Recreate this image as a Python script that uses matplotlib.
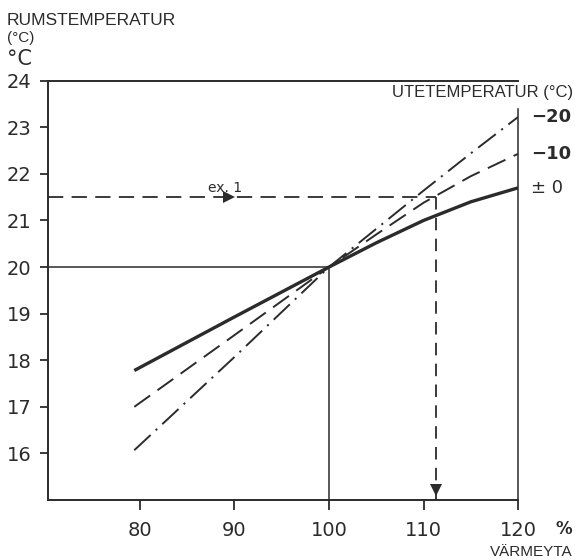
import matplotlib
matplotlib.use("Agg")
import matplotlib.pyplot as plt

# heat output (%) vs room temperature for three outdoor temperatures
varmeyta = [79.4, 90, 100, 105, 110, 115, 120]
t_0 = [17.78, 18.93, 20.0, 20.52, 21.0, 21.4, 21.7]
t_m10 = [17.0, 18.54, 20.0, 20.7, 21.38, 21.95, 22.43]
t_m20 = [16.07, 18.07, 20.0, 20.82, 21.64, 22.44, 23.22]
ute_labels = ["± 0", "−10", "−20"]

x_ticks = [80, 90, 100, 110, 120]
y_ticks = [16, 17, 18, 19, 20, 21, 22, 23, 24]

# example 1: 21.5 degC room temp, -10 outside -> about 111 %
ex_temp = 21.5
ex_heat = 111.3

ink = "#2b2b2b"
plt.rcParams["lines.scale_dashes"] = False
plt.rcParams["font.family"] = ["DejaVu Sans"]

fig = plt.figure(figsize=(5.75, 5.6), dpi=100)
ax = fig.add_axes([0.084, 0.1071, 0.8169, 0.7488])

ax.plot(varmeyta, t_0, color=ink, lw=2.4, solid_capstyle="butt")
ax.plot(varmeyta, t_m10, color=ink, lw=1.4, linestyle=(0, (14, 6.5)))
ax.plot(varmeyta, t_m20, color=ink, lw=1.4, linestyle=(0, (16, 5, 1.5, 5)))

# reference lines at 100 % / 20 degC
ax.plot([70.3, 100], [20, 20], color=ink, lw=1.1)
ax.plot([100, 100], [15, 20], color=ink, lw=1.1)

# example 1
ax.plot([70.3, ex_heat], [ex_temp, ex_temp], color=ink, lw=1.3, linestyle=(0, (11, 6)))
ax.plot([ex_heat, ex_heat], [ex_temp, 15], color=ink, lw=1.3, linestyle=(0, (9, 6)))
ax.plot(89.4, ex_temp, marker=">", ms=8, color=ink, mew=0)
ax.plot(ex_heat, 15.22, marker="v", ms=9, color=ink, mew=0)
ax.text(89.0, 21.7, "ex. 1", fontsize=10, color=ink, ha="center", va="center")

ax.set_xlim(70.3, 120)
ax.set_ylim(15, 24)
ax.set_xticks(x_ticks)
ax.set_yticks(y_ticks)
ax.tick_params(axis="x", direction="out", length=7, width=1.3, pad=8,
               labelsize=14, colors=ink)
ax.tick_params(axis="y", direction="out", length=6, width=1.3, pad=6,
               labelsize=14, colors=ink)
for s in ax.spines.values():
    s.set_color(ink)
    s.set_linewidth(1.4)
ax.spines["right"].set_linewidth(1.1)
ax.spines["right"].set_bounds(15, 23.4)

# outdoor temperature labels at line ends
ends = [t_0[-1], t_m10[-1], t_m20[-1]]
for lab, yv in zip(ute_labels, ends):
    bold = "bold" if lab != "± 0" else "normal"
    ax.text(121.4, yv, lab, fontsize=13, fontweight=bold, color=ink,
            ha="left", va="center", clip_on=False)

fig.text(0.012, 0.977, "RUMSTEMPERATUR", fontsize=12.5, color=ink,
         family="Liberation Sans", ha="left", va="top")
fig.text(0.012, 0.945, "(°C)", fontsize=11, color=ink,
         family="Liberation Sans", ha="left", va="top")
fig.text(0.012, 0.913, "°C", fontsize=15, color=ink, ha="left", va="top")
fig.text(0.9965, 0.834, "UTETEMPERATUR (°C)", fontsize=12, color=ink,
         family="Liberation Sans", ha="right", va="center")
fig.text(0.966, 0.0545, "%", fontsize=12, fontweight="bold", color=ink,
         ha="left", va="center")
fig.text(0.9965, 0.0143, "VÄRMEYTA", fontsize=11, color=ink,
         family="Liberation Sans", ha="right", va="center")

fig.savefig("out.png", dpi=100)
